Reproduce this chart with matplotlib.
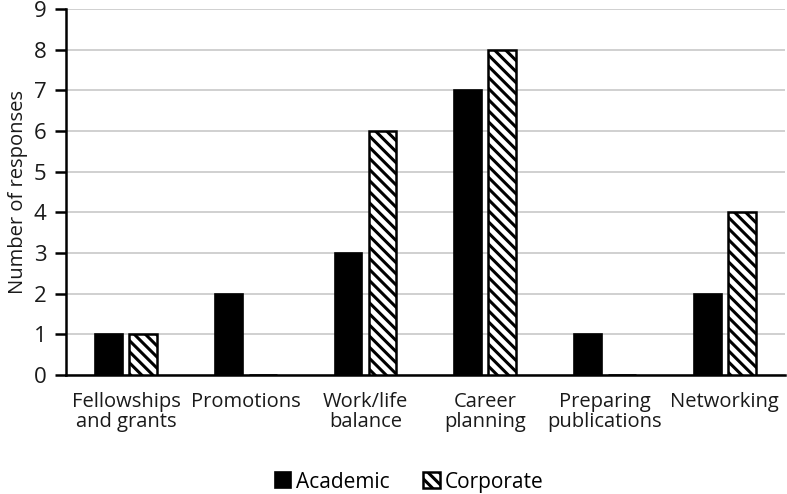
import numpy as np
import matplotlib
matplotlib.use("Agg")
import matplotlib.pyplot as plt

# data
categories = ["Fellowships\nand grants", "Promotions", "Work/life\nbalance",
              "Career\nplanning", "Preparing\npublications", "Networking"]
academic = [1, 2, 3, 7, 1, 2]
corporate = [1, 0, 6, 8, 0, 4]
series_names = ["Academic", "Corporate"]

plt.rcParams["font.family"] = ["Open Sans", "DejaVu Sans"]
plt.rcParams["hatch.linewidth"] = 2.2
plt.rcParams["hatch.color"] = "black"

fig = plt.figure(figsize=(7.87, 4.94), dpi=100)
ax = fig.add_axes([0.084, 0.241, 0.913, 0.741])

x = np.arange(len(categories))
w = 0.233
off = 0.142
ax.bar(x - off, academic, w, color="black", edgecolor="black", linewidth=1.2,
       label=series_names[0], zorder=3)
ax.bar(x + off, corporate, w, color="white", edgecolor="black", linewidth=1.8,
       hatch="\\\\\\", label=series_names[1], zorder=3)

ax.set_xlim(-0.5, len(categories) - 0.5)
ax.set_ylim(0, 9)
ax.set_yticks(range(0, 10))
ax.yaxis.grid(True, color="#c8c8c8", linewidth=1.2, zorder=0)
ax.set_axisbelow(True)

for s in ["top", "right"]:
    ax.spines[s].set_visible(False)
ax.spines["left"].set_linewidth(1.8)
ax.spines["bottom"].set_linewidth(1.8)

ax.set_xticks(x)
ax.set_xticklabels(categories, fontsize=14.5, color="#1a1a1a", linespacing=1.05)
ax.tick_params(axis="x", length=0, pad=12)
ax.tick_params(axis="y", labelsize=16, length=8, width=1.8, pad=6, colors="#1a1a1a")
ax.tick_params(axis="y", color="black")
ax.set_ylabel("Number of responses", fontsize=14.5, color="#1a1a1a", labelpad=4)

fig.legend(loc="lower center", bbox_to_anchor=(0.52, -0.035), ncol=2, frameon=False,
           fontsize=15, handlelength=0.8, handleheight=0.8, handletextpad=0.25,
           columnspacing=1.6)

fig.savefig("out.png", dpi=100)
